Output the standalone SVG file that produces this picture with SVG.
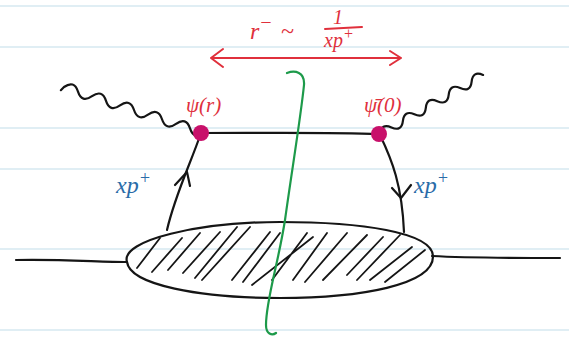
<svg xmlns="http://www.w3.org/2000/svg" width="569" height="340" viewBox="0 0 569 340">
<style>
.rule{stroke:#d6e9f0;stroke-width:1.5}
.ink{fill:none;stroke:#151515;stroke-width:2.2;stroke-linecap:round;stroke-linejoin:round}
.hatch{fill:none;stroke:#151515;stroke-width:1.8;stroke-linecap:round}
.red{fill:none;stroke:#e0303c;stroke-width:2;stroke-linecap:round;stroke-linejoin:round}
.rt{fill:#e0303c;font-family:"Liberation Serif",serif;font-style:italic}
.bt{fill:#2a6ca8;font-family:"Liberation Serif",serif;font-style:italic;font-size:24px}
.dot{fill:#c8106a}
</style>
<rect width="569" height="340" fill="#ffffff"/>
<g id="ruling">
<line class="rule" x1="0" y1="6" x2="569" y2="6"/>
<line class="rule" x1="0" y1="47" x2="569" y2="47"/>
<line class="rule" x1="0" y1="128" x2="569" y2="128"/>
<line class="rule" x1="0" y1="169" x2="569" y2="169"/>
<line class="rule" x1="0" y1="249" x2="569" y2="249"/>
<line class="rule" x1="0" y1="330" x2="569" y2="330"/>
</g>
<g id="connectors">
<path class="ink" d="M16,260 C60,259 100,262 127,262"/>
<path class="ink" d="M432,256 C470,258 520,258 560,258"/>
<path class="ink" d="M201,133 C260,133 330,132 379,134"/>
<path class="ink" d="M201,133 C190,165 175,195 167,230"/>
<path class="ink" d="M380,135 C392,160 402,185 404,232"/>
<path class="ink" d="M187,172 L175,185 M187,172 L190,186"/>
<path class="ink" d="M401,198 L392,188 M401,198 L411,185"/>
<g transform="translate(64,87) rotate(18.2)">
<path class="ink" d="M-2,4 L0,0 q7.4,-10 14.74,0 t14.74,0 t14.74,0 t14.74,0 t14.74,0 t14.74,0 t14.74,0 t14.74,0 t14.74,0 t14.74,0"/>
</g>
<g transform="translate(380,134) rotate(-29.8)">
<path class="ink" d="M0,0 q6.6,-9 13.2,0 t13.2,0 t13.2,0 t13.2,0 t13.2,0 t13.2,0 t13.2,0 t13.2,0 t13.2,0"/>
</g>
</g>
<g id="blob">
<path class="ink" d="M127,262 C120,240 200,222 280,222 C360,222 432,232 433,256 C434,285 360,298 280,298 C200,298 130,285 127,262 Z"/>
<path class="hatch" d="M137,268 L160,238 M152,272 L182,238 M168,270 L200,233 M183,273 L220,232 M195,278 L237,227 M202,280 L250,227 M232,280 L270,232 M243,282 L280,233 M252,285 L313,237 M272,280 L307,233 M293,280 L327,233 M305,282 L347,233 M323,280 L367,235 M347,275 L383,237 M357,280 L400,235 M370,280 L412,247 M385,282 L425,250"/>
</g>
<g id="vertex-left">
<circle class="dot" cx="201" cy="133" r="8"/>
<text class="rt" x="186" y="112" font-size="21">ψ(r)</text>
</g>
<g id="vertex-right">
<circle class="dot" cx="379" cy="134" r="8"/>
<text class="rt" x="364" y="112" font-size="21">ψ̄(0)</text>
</g>
<g id="labels">
<text class="bt" x="116" y="193">xp<tspan font-size="18" dy="-9">+</tspan></text>
<text class="bt" x="414" y="193">xp<tspan font-size="18" dy="-9">+</tspan></text>
</g>
<g id="scale">
<path class="red" d="M211,58 L401,58 M223,49 L211,58 L223,67 M390,51 L401,58 L390,65"/>
<text class="rt" x="250" y="39" font-size="24">r<tspan font-size="20" dy="-10">−</tspan><tspan dy="10" dx="8">~</tspan></text>
<text class="rt" x="333" y="24" font-size="20">1</text>
<line class="red" x1="325" y1="29" x2="362" y2="27"/>
<text class="rt" x="324" y="47" font-size="20">xp<tspan font-size="16" dy="-8">+</tspan></text>
</g>
<g id="cut">
<path fill="none" stroke="#1d9a4a" stroke-width="2.2" stroke-linecap="round" d="M287,73 C295,70 305,72 304,85 C301,115 292,170 285,220 C278,265 266,300 266,325 C266,334 272,336 276,333"/>
</g>
</svg>
